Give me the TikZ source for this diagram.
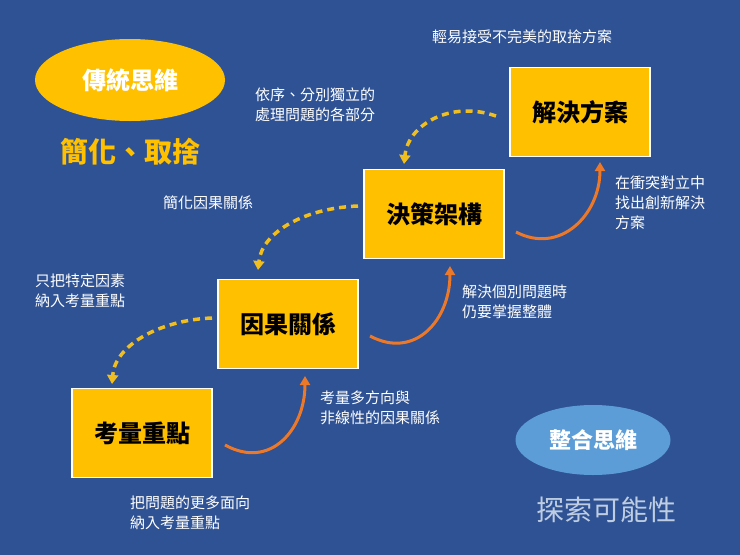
\documentclass[tikz,border=0pt]{standalone}
\usepackage{fontspec}
\setmainfont{Noto Sans CJK TC}
\usetikzlibrary{arrows.meta,shapes.geometric}
\definecolor{bg}{RGB}{46,82,148}
\definecolor{boxy}{RGB}{255,192,0}
\definecolor{oran}{RGB}{236,120,40}
\definecolor{dashyel}{RGB}{240,190,30}
\definecolor{lblue}{RGB}{92,157,215}
\definecolor{ltext}{RGB}{190,205,225}
\begin{document}
\begin{tikzpicture}[x=1pt,y=-1pt,
  stepbox/.style={draw=white,line width=1.5pt,fill=boxy,minimum width=140pt,minimum height=89pt,font=\fontsize{24}{28}\selectfont\bfseries,text=black},
  lbl/.style={text=white,font=\fontsize{15}{20}\selectfont,align=left,anchor=north west,inner sep=0pt},
  solidarr/.style={draw=oran,line width=3pt,-{Triangle[length=9pt,width=10pt]}},
  dasharr/.style={draw=dashyel,line width=3.5pt,dash pattern=on 7pt off 5pt,-{Triangle[length=9pt,width=11pt]}}]
\fill[bg] (0,0) rectangle (740,555);
\node[stepbox] (b1) at (142,433) {考量重點};
\node[stepbox] (b2) at (288,324) {因果關係};
\node[stepbox] (b3) at (434,214) {決策架構};
\node[stepbox] (b4) at (580,112) {解決方案};
\node[ellipse,fill=boxy,minimum width=190pt,minimum height=82pt,text=white,font=\fontsize{24}{28}\selectfont\bfseries] (e1) at (130,80) {傳統思維};
\node[text=boxy,font=\fontsize{28}{32}\selectfont\bfseries] (t1) at (130,152) {簡化、取捨};
\node[ellipse,fill=lblue,minimum width=155pt,minimum height=70pt,text=white,font=\fontsize{22}{26}\selectfont\bfseries] (e2) at (593,440) {整合思維};
\node[text=ltext,font=\fontsize{28}{32}\selectfont] (t2) at (606,510) {探索可能性};
% solid arrows
\coordinate (s1a) at (225,445); \coordinate (s1b) at (305,376);
\coordinate (s2a) at (370,336); \coordinate (s2b) at (450,266);
\coordinate (s3a) at (516,232); \coordinate (s3b) at (600,162);
\draw[solidarr] (s1a) .. controls (270,470) and (305,430) .. (s1b);
\draw[solidarr] (s2a) .. controls (415,360) and (450,320) .. (s2b);
\draw[solidarr] (s3a) .. controls (560,255) and (600,215) .. (s3b);
% dashed arrows
\coordinate (d1a) at (212,318); \coordinate (d1b) at (112,384);
\coordinate (d2a) at (358,206); \coordinate (d2b) at (258,270);
\coordinate (d3a) at (496,116); \coordinate (d3b) at (404,164);
\draw[dasharr] (d1a) .. controls (160,320) and (115,345) .. (d1b);
\draw[dasharr] (d2a) .. controls (305,208) and (262,232) .. (d2b);
\draw[dasharr] (d3a) .. controls (450,100) and (408,125) .. (d3b);
% labels
\node[lbl] (l1) at (130,496) {把問題的更多面向\\納入考量重點};
\node[lbl] (l2) at (320,391) {考量多方向與\\非線性的因果關係};
\node[lbl] (l3) at (35,274) {只把特定因素\\納入考量重點};
\node[lbl] (l4) at (462,285) {解決個別問題時\\仍要掌握整體};
\node[lbl] (l5) at (163,195) {簡化因果關係};
\node[lbl] (l6) at (255,88) {依序、分別獨立的\\處理問題的各部分};
\node[lbl] (l7) at (615,176) {在衝突對立中\\找出創新解決\\方案};
\node[text=white,font=\fontsize{15}{20}\selectfont] (l8) at (522,37) {輕易接受不完美的取捨方案};
\end{tikzpicture}
\end{document}
